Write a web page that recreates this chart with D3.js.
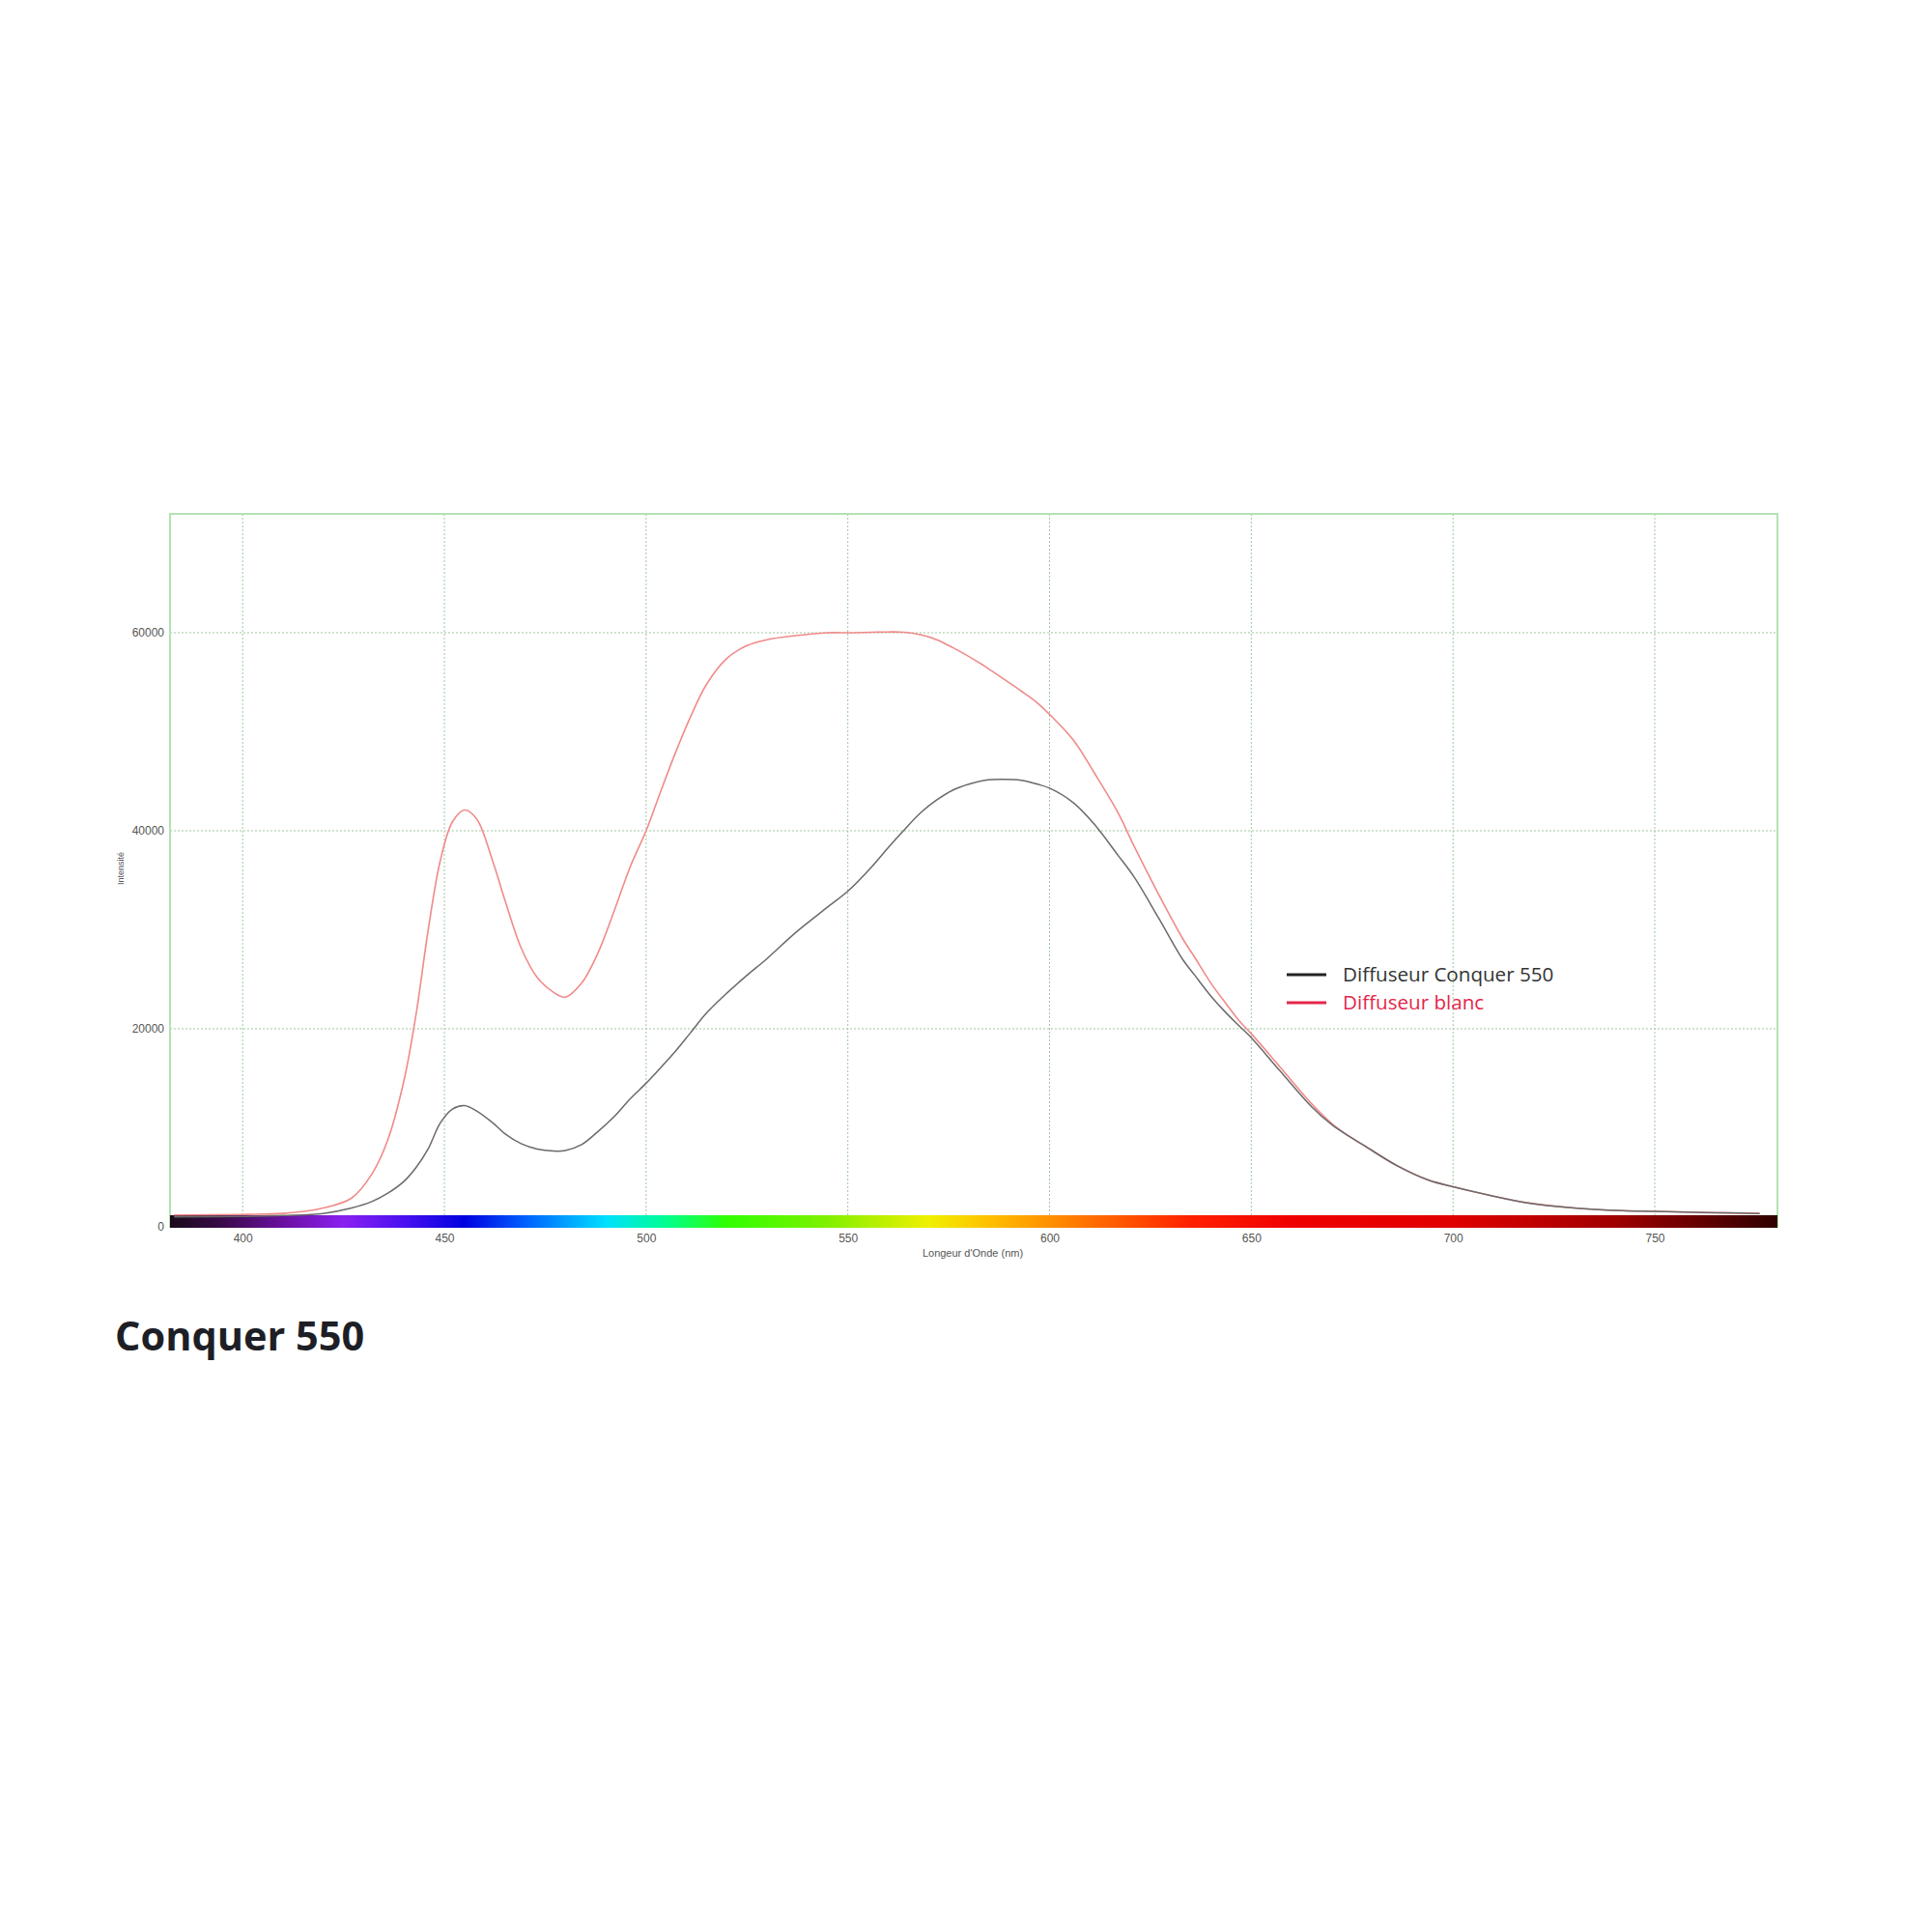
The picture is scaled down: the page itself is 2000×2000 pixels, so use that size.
<!DOCTYPE html>
<html>
<head>
<meta charset="utf-8">
<script src="https://cdn.jsdelivr.net/npm/d3@7"></script>
<style>
	body { margin: 0; background: #fff; }
	.gridLines { stroke: #9fc79f; stroke-width: 1; stroke-dasharray: 2,2; fill: none; }
	.frame { fill: none; stroke: #b3e2b3; stroke-width: 2; }
	.tickLabel text { font-family: "Liberation Sans", Arial, sans-serif; font-size: 12px; fill: #555; }
</style>
</head>
<body>
<script>
//wavelengths (nm)
var wavelengths = [383, 400, 410, 420, 427, 432, 436, 440, 443, 446, 449, 452, 455, 458, 462, 465, 469, 473, 477, 480,
	484, 488, 492, 496, 500, 503, 507, 511, 515, 520, 525, 530, 537, 545, 550, 556, 560, 564, 568, 572,
	576, 580, 584, 588, 593, 597, 600, 606, 611, 617, 621, 627, 633, 636, 640, 644, 647, 650, 657, 665,
	670, 674, 678, 686, 694, 700, 710, 718, 730, 742, 750, 762, 776];

//intensity, white diffuser
var blancValues = [1200, 1250, 1350, 1900, 2900, 5300, 8800, 14800, 21500, 30000, 37000, 40900, 42100, 41200, 36900, 33000, 28200, 25200, 23700, 23200,
	24600, 27600, 31800, 36300, 40000, 43300, 47600, 51500, 54800, 57400, 58700, 59300, 59700, 60000, 60000, 60050, 60080, 60050, 59800, 59300,
	58500, 57600, 56600, 55500, 54100, 52900, 51750, 49100, 45900, 41800, 38400, 33600, 29100, 27200, 24600, 22400, 20800, 19500, 16200, 12400,
	10400, 9200, 8200, 6200, 4700, 4050, 3100, 2450, 1900, 1630, 1560, 1450, 1350];

//intensity, Conquer 550 diffuser
var conquerValues = [1000, 1050, 1150, 1350, 1900, 2550, 3400, 4600, 6000, 7900, 10500, 11900, 12250, 11700, 10500, 9400, 8400, 7850, 7650, 7700,
	8300, 9600, 11100, 12900, 14500, 15800, 17600, 19600, 21600, 23600, 25400, 27100, 29700, 32300, 33900, 36400, 38300, 40100, 41800, 43100,
	44100, 44700, 45100, 45200, 45100, 44700, 44300, 42800, 40700, 37500, 35300, 31200, 27000, 25400, 23300, 21500, 20300, 19100, 15800, 12100,
	10300, 9200, 8200, 6200, 4700, 4050, 3100, 2450, 1900, 1630, 1560, 1450, 1350];

//axis ticks
var xTicks = [400, 450, 500, 550, 600, 650, 700, 750];
var yTicks = [0, 20000, 40000, 60000];

//spectrum bar colour stops
var spectrumNm = [382, 395, 410, 425, 440, 455, 470, 490, 505, 520, 545, 570, 585, 605, 635, 660, 700, 740, 780];
var spectrumColors = ["#1a0a1a", "#3a0a4a", "#6a10a0", "#8a20f0", "#4a10f0", "#0000e0", "#0060ff", "#00e0ff", "#00ff90", "#30ff00",
	"#80f000", "#f0f000", "#ffc000", "#ff8000", "#ff2000", "#f00000", "#e00000", "#a00000", "#300000"];

//legend entries
var legendLabels = ["Diffuseur Conquer 550", "Diffuseur blanc"];
var legendColors = ["#222222", "#e3264b"];
var legendText = ["#333333", "#e3264b"];

window.onload = drawChart();

function drawChart(){

	var width = 2000,
		height = 2000;

	//plot frame
	var left = 176, right = 1840, top = 532, bottom = 1270;

	var svg = d3.select("body")
		.append("svg")
		.attr("width", width)
		.attr("height", height);

	var x = d3.scaleLinear()
		.domain([382, 780.4])
		.range([left, right]);

	var y = d3.scaleLinear()
		.domain([0, 72000])
		.range([bottom, top]);

	//vertical grid
	svg.selectAll(".vGrid")
		.data(xTicks)
		.enter()
		.append("line")
		.attr("class", "gridLines")
		.attr("x1", function(d){ return x(d); })
		.attr("x2", function(d){ return x(d); })
		.attr("y1", top)
		.attr("y2", bottom);

	//horizontal grid
	svg.selectAll(".hGrid")
		.data(yTicks.slice(1))
		.enter()
		.append("line")
		.attr("class", "gridLines")
		.attr("x1", left)
		.attr("x2", right)
		.attr("y1", function(d){ return y(d); })
		.attr("y2", function(d){ return y(d); });

	//frame
	svg.append("rect")
		.attr("class", "frame")
		.attr("x", left)
		.attr("y", top)
		.attr("width", right - left)
		.attr("height", bottom - top);

	//spectrum gradient
	var grad = svg.append("defs")
		.append("linearGradient")
		.attr("id", "spectrum")
		.attr("gradientUnits", "userSpaceOnUse")
		.attr("x1", left)
		.attr("x2", right)
		.attr("y1", 0)
		.attr("y2", 0);

	grad.selectAll("stop")
		.data(spectrumNm)
		.enter()
		.append("stop")
		.attr("offset", function(d){ return (x(d) - left) / (right - left); })
		.attr("stop-color", function(d, i){ return spectrumColors[i]; });

	svg.append("rect")
		.attr("x", left)
		.attr("y", bottom - 12)
		.attr("width", right - left)
		.attr("height", 13)
		.attr("fill", "url(#spectrum)");

	//curves
	var line = d3.line()
		.x(function(d){ return x(d[0]); })
		.y(function(d){ return y(d[1]); })
		.curve(d3.curveCatmullRom.alpha(0.5));

	svg.append("path")
		.datum(d3.zip(wavelengths, blancValues))
		.attr("fill", "none")
		.attr("stroke", "#f08a8a")
		.attr("stroke-width", 1.6)
		.attr("d", line);

	svg.append("path")
		.datum(d3.zip(wavelengths, conquerValues))
		.attr("fill", "none")
		.attr("stroke", "#6a6a6a")
		.attr("stroke-width", 1.5)
		.attr("d", line);

	//axes
	svg.append("g")
		.attr("class", "tickLabel")
		.attr("transform", "translate(0," + bottom + ")")
		.call(d3.axisBottom(x).tickValues(xTicks).tickSize(0).tickPadding(7))
		.call(function(g){ g.select(".domain").remove(); });

	svg.append("g")
		.attr("class", "tickLabel")
		.attr("transform", "translate(" + left + ",0)")
		.call(d3.axisLeft(y).tickValues(yTicks).tickFormat(d3.format("d")).tickSize(0).tickPadding(6))
		.call(function(g){ g.select(".domain").remove(); });

	//axis titles
	svg.append("text")
		.attr("x", 1007)
		.attr("y", 1301)
		.attr("text-anchor", "middle")
		.style("font-family", "Liberation Sans, Arial, sans-serif")
		.style("font-size", "11px")
		.style("fill", "#555")
		.text("Longeur d'Onde (nm)");

	svg.append("text")
		.attr("transform", "translate(128,899) rotate(-90)")
		.attr("text-anchor", "middle")
		.style("font-family", "Liberation Sans, Arial, sans-serif")
		.style("font-size", "9px")
		.style("fill", "#555")
		.text("Intensité");

	//legend
	var legend = svg.selectAll(".legend")
		.data(legendLabels)
		.enter()
		.append("g")
		.attr("class", "legend")
		.attr("transform", function(d, i){ return "translate(1332," + (1009 + i * 29) + ")"; });

	legend.append("line")
		.attr("x1", 0)
		.attr("x2", 41)
		.attr("stroke", function(d, i){ return legendColors[i]; })
		.attr("stroke-width", 3);

	legend.append("text")
		.attr("x", 58)
		.attr("y", 7)
		.style("font-family", "Open Sans, sans-serif")
		.style("font-size", "20.6px")
		.style("fill", function(d, i){ return legendText[i]; })
		.text(function(d){ return d; });

	//title
	svg.append("text")
		.attr("x", 119)
		.attr("y", 1398)
		.style("font-family", "Open Sans, sans-serif")
		.style("font-size", "41.5px")
		.style("font-weight", "bold")
		.style("fill", "#1e1f26")
		.text("Conquer 550");
};
</script>
</body>
</html>
